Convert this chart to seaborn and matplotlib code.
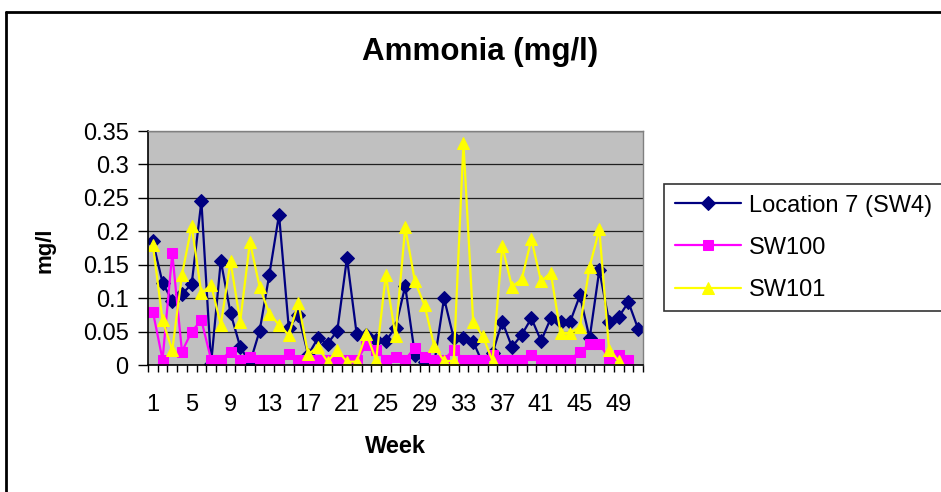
import numpy as np
import pandas as pd
import matplotlib
matplotlib.use("Agg")
import matplotlib.pyplot as plt
import seaborn as sns

# Weekly ammonia readings (mg/l)
weeks = list(range(1, 52))

loc7_sw4 = [0.185, 0.123, 0.096, 0.106, 0.121, 0.245, 0.002, 0.156, 0.078, 0.027,
            0.003, 0.051, 0.135, 0.225, 0.056, 0.075, 0.015, 0.040, 0.032, 0.051,
            0.160, 0.046, 0.045, 0.038, 0.036, 0.056, 0.118, 0.015, 0.005, 0.003,
            0.100, 0.040, 0.040, 0.035, 0.002, 0.018, 0.065, 0.027, 0.045, 0.070,
            0.036, 0.070, 0.065, 0.065, 0.104, 0.040, 0.142, 0.065, 0.072, 0.094,
            0.054]

sw100 = [0.080, 0.008, 0.167, 0.020, 0.050, 0.067, 0.008, 0.008, 0.020, 0.008,
         0.012, 0.008, 0.008, 0.008, 0.017, 0.008, 0.007, 0.007, 0.007, 0.007,
         0.007, 0.007, 0.030, 0.022, 0.008, 0.012, 0.008, 0.026, 0.012, 0.008,
         0.008, 0.023, 0.008, 0.008, 0.008, 0.015, 0.008, 0.008, 0.008, 0.015,
         0.008, 0.008, 0.008, 0.008, 0.020, 0.031, 0.031, 0.011, 0.015, 0.008,
         np.nan]

sw101 = [0.180, 0.067, 0.022, 0.135, 0.208, 0.107, 0.120, 0.060, 0.155, 0.065,
         0.184, 0.117, 0.077, 0.060, 0.045, 0.093, 0.016, 0.027, 0.005, 0.022,
         0.005, 0.005, 0.047, 0.007, 0.135, 0.043, 0.206, 0.125, 0.089, 0.028,
         0.006, 0.006, 0.332, 0.065, 0.043, 0.006, 0.178, 0.117, 0.128, 0.188,
         0.125, 0.138, 0.048, 0.048, 0.057, 0.147, 0.203, 0.023, 0.006, np.nan,
         np.nan]

series_names = ["Location 7 (SW4)", "SW100", "SW101"]
week_labels = [str(w) for w in range(1, 50, 4)]

df = pd.DataFrame({"Week": weeks, series_names[0]: loc7_sw4,
                   series_names[1]: sw100, series_names[2]: sw101})

sns.set_theme(style="white")
plt.rcParams["font.family"] = ["Liberation Sans", "DejaVu Sans"]
plt.rcParams.update({"text.color": "black", "axes.labelcolor": "black",
                     "xtick.color": "black", "ytick.color": "black"})

fig = plt.figure(figsize=(9.41, 4.92), dpi=100)
ax = fig.add_axes([148 / 941, 1 - 365 / 492, 495 / 941, 234 / 492])
ax.set_facecolor("#C0C0C0")

styles = [("#000080", "D", 7), ("#FF00FF", "s", 7), ("#FFFF00", "^", 9)]
for name, (col, mk, ms) in zip(series_names, styles):
    sns.lineplot(data=df, x="Week", y=name, ax=ax, color=col, marker=mk,
                 markersize=ms, markeredgecolor=col, linewidth=1.6, label=name)

ax.set_xlim(0.5, 51.5)
ax.set_ylim(0, 0.35)
ax.set_yticks(np.arange(0, 0.351, 0.05))
ax.set_yticklabels(["0", "0.05", "0.1", "0.15", "0.2", "0.25", "0.3", "0.35"])
ax.yaxis.grid(True, color="#202020", linewidth=0.9)
ax.set_axisbelow(True)

ax.set_xticks(range(1, 50, 4))
ax.set_xticklabels(week_labels)
ax.set_xticks(np.arange(0.5, 52, 1), minor=True)
ax.tick_params(axis="x", which="major", length=0, pad=21, labelsize=17)
ax.tick_params(axis="x", which="minor", bottom=True, length=5, width=1, color="black")
ax.tick_params(axis="y", left=True, length=7, width=1, color="black", pad=7, labelsize=17)

for side in ["left", "bottom"]:
    ax.spines[side].set_color("black")
    ax.spines[side].set_linewidth(1.2)
for side in ["top", "right"]:
    ax.spines[side].set_color("#808080")
    ax.spines[side].set_linewidth(1)

ax.set_xlabel("Week", fontsize=17, fontweight="bold")
ax.set_ylabel("mg/l", fontsize=16, fontweight="bold")
ax.xaxis.label.set_va("center")
ax.yaxis.label.set_va("center")
ax.xaxis.set_label_coords(0.5, -0.35)
ax.yaxis.set_label_coords(-0.208, 0.49)

fig.text(480 / 941, 1 - 52 / 492, "Ammonia (mg/l)", ha="center", va="center",
         fontsize=22.5, fontweight="bold")

leg = ax.legend(loc="upper left", bbox_to_anchor=(664 / 941, 1 - 184 / 492),
                bbox_transform=fig.transFigure, fontsize=17, frameon=True,
                fancybox=False, edgecolor="black", handlelength=2.8,
                handletextpad=0.35, labelspacing=0.85, borderpad=0.45,
                borderaxespad=0)
leg.get_frame().set_linewidth(1.2)

# chart border (cropped on the right and bottom)
fig.add_artist(plt.Line2D([6 / 941, 6 / 941], [0, 1 - 11.5 / 492],
                          transform=fig.transFigure, color="black", linewidth=2))
fig.add_artist(plt.Line2D([6 / 941, 1], [1 - 11.5 / 492, 1 - 11.5 / 492],
                          transform=fig.transFigure, color="black", linewidth=2))

fig.savefig("out.png", dpi=100)
